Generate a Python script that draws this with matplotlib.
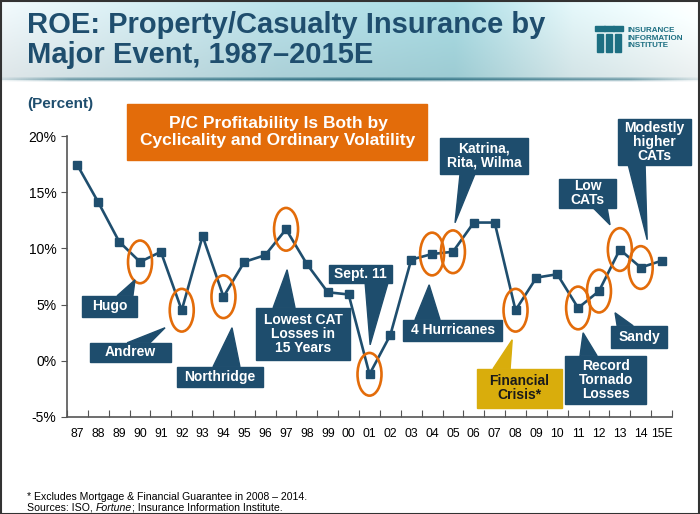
import numpy as np
import matplotlib
matplotlib.use('Agg')
import matplotlib.pyplot as plt
from matplotlib.patches import Ellipse, Rectangle, Polygon

plt.rcParams['font.family'] = ['Liberation Sans', 'DejaVu Sans']

# ROE by year (percent)
years = ['87', '88', '89', '90', '91', '92', '93', '94', '95', '96', '97', '98', '99', '00',
         '01', '02', '03', '04', '05', '06', '07', '08', '09', '10', '11', '12', '13', '14', '15E']
roe = [17.4, 14.1, 10.6, 8.8, 9.7, 4.5, 11.1, 5.7, 8.8, 9.4, 11.7, 8.6, 6.1, 5.9,
       -1.2, 2.3, 9.0, 9.5, 9.7, 12.3, 12.3, 4.5, 7.4, 7.7, 4.7, 6.2, 9.9, 8.3, 8.9]

# years circled in orange
circled = ['90', '92', '94', '97', '01', '04', '05', '08', '11', '12', '13', '14']

# callouts: label, box x0, x1, y0, y1, pointer base x0, x1, tip x, tip y, fill, text colour
callouts = [
    ('Hugo', 0.22, 2.86, 3.91, 5.78, 1.90, 2.66, 2.76, 7.2, 'navy', 'white'),
    ('Andrew', 0.60, 4.49, -0.09, 1.60, 2.38, 3.48, 4.20, 2.94, 'navy', 'white'),
    ('Northridge', 4.77, 8.90, -2.31, -0.53, 6.50, 7.79, 7.41, 2.94, 'navy', 'white'),
    ('Lowest CAT\nLosses in\n15 Years', 8.56, 13.07, 0.09, 4.72, 9.38, 10.43, 10.05, 8.1, 'navy', 'white'),
    ('Sept. 11', 12.06, 15.08, 6.94, 8.54, 13.79, 14.89, 14.03, 1.42, 'navy', 'white'),
    ('4 Hurricanes', 15.61, 20.36, 1.78, 3.65, 16.18, 17.38, 16.86, 6.76, 'navy', 'white'),
    ('Katrina,\nRita, Wilma', 17.38, 21.60, 16.64, 19.84, 18.34, 19.06, 18.10, 12.28, 'navy', 'white'),
    ('Financial\nCrisis*', 19.16, 23.23, -4.18, -0.71, 19.92, 20.74, 20.84, 1.87, 'gold', '#1a1a1a'),
    ('Record\nTornado\nLosses', 23.38, 27.26, -3.83, 0.44, 24.09, 24.91, 24.24, 2.49, 'navy', 'white'),
    ('Sandy', 25.58, 28.27, 1.16, 3.11, 25.87, 26.64, 25.77, 4.27, 'navy', 'white'),
    ('Low\nCATs', 23.09, 25.82, 13.61, 16.19, 24.72, 25.39, 25.53, 12.10, 'navy', 'white'),
    ('Modestly\nhigher\nCATs', 25.92, 29.42, 17.44, 21.53, 26.40, 27.21, 27.31, 10.77, 'navy', 'white'),
]

BLUE = '#1f4e6e'
ORANGE = '#e36c0a'
fills = {'navy': '#1e4d6d', 'gold': '#d9ad0c'}
FOOT = 7.6

fig = plt.figure(figsize=(7, 5.14), dpi=100)

# header band with gradient
hdr = fig.add_axes([0, 1 - 80 / 514, 1, 80 / 514])
hx = np.linspace(0, 1, 300)
stops_x = [0, 0.4, 0.65, 0.82, 1]
stops_c = np.array([[0.91, 0.94, 0.95], [0.70, 0.85, 0.88], [0.64, 0.83, 0.86],
                    [0.86, 0.93, 0.94], [0.96, 0.98, 0.98]])
row = np.stack([np.interp(hx, stops_x, stops_c[:, k]) for k in range(3)], axis=-1)
vy = np.linspace(1.05, 0.96, 40)[:, None, None]
grad = np.clip(row[None, :, :] * vy, 0, 1)
hdr.imshow(grad, aspect='auto', extent=[0, 1, 0, 1])
hdr.set_xlim(0, 1); hdr.set_ylim(0, 1)
hdr.axis('off')
# shadow line under header
sh = fig.add_axes([0, 1 - 82 / 514, 1, 5 / 514])
alpha = np.interp(hx, [0, 0.1, 0.5, 0.9, 1], [0.1, 0.6, 1.0, 0.6, 0.1])
line_img = np.ones((5, 300, 4))
line_img[:, :, :3] = [0.2, 0.45, 0.52]
line_img[:, :, 3] = alpha[None, :] * np.array([0.4, 0.8, 1.0, 0.6, 0.2])[:, None]
sh.imshow(line_img, aspect='auto', extent=[0, 1, 0, 1])
sh.axis('off')

fig.text(27 / 700, 1 - 11 / 514, 'ROE: Property/Casualty Insurance by\nMajor Event, 1987\u20132015E',
         ha='left', va='top', fontsize=21, fontweight='bold', color=BLUE, linespacing=1.1)

# logo
logo_c = '#1d6f82'
for lx in [597, 606, 615]:
    fig.patches.append(Rectangle((lx / 700, 1 - 52 / 514), 6 / 700, 18 / 514,
                                 transform=fig.transFigure, color=logo_c))
    fig.patches.append(Rectangle(((lx - 2) / 700, 1 - 31 / 514), 10 / 700, 5 / 514,
                                 transform=fig.transFigure, color=logo_c))
fig.text(628 / 700, 1 - 38 / 514, 'INSURANCE\nINFORMATION\nINSTITUTE', ha='left', va='center',
         fontsize=5.8, fontweight='bold', color=logo_c, linespacing=1.05)

fig.text(27 / 700, 1 - 104 / 514, '(Percent)', ha='left', va='center', fontsize=11,
         fontweight='bold', color=BLUE)

# orange headline box
fig.patches.append(Rectangle((127 / 700, 1 - 160 / 514), 300 / 700, 56 / 514,
                             transform=fig.transFigure, color=ORANGE, zorder=1))
fig.text(278 / 700, 1 - 132 / 514, 'P/C Profitability Is Both by\nCyclicality and Ordinary Volatility',
         ha='center', va='center', fontsize=12.5, fontweight='bold', color='white', linespacing=1.15)

ax = fig.add_axes([67 / 700, 1 - 417 / 514, 605 / 700, 281 / 514])
x = np.arange(len(years))
ax.plot(x, roe, color=BLUE, lw=1.9, marker='s', ms=6, zorder=3)

for yr in circled:
    i = years.index(yr)
    ax.add_patch(Ellipse((i, roe[i]), 1.15, 3.8, fill=False, edgecolor=ORANGE, lw=1.9, zorder=4))

for lab, x0, x1, y0, y1, b0, b1, tx, ty, fc, tc in callouts:
    col = fills[fc]
    by = y1 if ty > y1 else y0
    ax.add_patch(Polygon([(b0, by), (b1, by), (tx, ty)], closed=True, color=col,
                         zorder=5, clip_on=False))
    ax.add_patch(Rectangle((x0, y0), x1 - x0, y1 - y0, color=col, zorder=5, clip_on=False))
    ax.text((x0 + x1) / 2, (y0 + y1) / 2, lab, ha='center', va='center', fontsize=10,
            fontweight='bold', color=tc, linespacing=1.0, zorder=6, clip_on=False)

ax.set_xlim(-0.5, len(years) - 0.5)
ax.set_ylim(-5, 20)
ax.set_yticks([-5, 0, 5, 10, 15, 20])
ax.set_yticklabels(['-5%', '0%', '5%', '10%', '15%', '20%'], fontsize=10)
ax.set_xticks(np.arange(len(years) + 1) - 0.5)
ax.set_xticklabels([])
ax.set_xticks(x, minor=True)
ax.set_xticklabels(years, minor=True, fontsize=8.8)
ax.tick_params(axis='x', which='major', direction='in', length=5, color='#555555')
ax.tick_params(axis='x', which='minor', length=0, pad=8)
ax.tick_params(axis='y', direction='out', length=4, color='#555555')
for s in ['top', 'right']:
    ax.spines[s].set_visible(False)
for s in ['left', 'bottom']:
    ax.spines[s].set_color('#555555')
    ax.spines[s].set_linewidth(1.2)
ax.patch.set_alpha(0)

# footnote, with "Fortune" in italics
fig.text(27 / 700, 1 - 497 / 514, '* Excludes Mortgage & Financial Guarantee in 2008 \u2013 2014.',
         ha='left', va='center', fontsize=FOOT)
r = fig.canvas.get_renderer()
xpos = 27 / 700
for part, style in [('Sources: ISO, ', 'normal'), ('Fortune', 'italic'),
                    ('; Insurance Information Institute.', 'normal')]:
    t = fig.text(xpos, 1 - 508 / 514, part, ha='left', va='center', fontsize=FOOT, style=style)
    xpos += t.get_window_extent(r).width / 700

# frame
fig.patches.append(Rectangle((0.001, 0.0), 0.997, 0.998, transform=fig.transFigure,
                             fill=False, edgecolor='#333333', lw=1.5))

fig.savefig('out.png', dpi=100)
